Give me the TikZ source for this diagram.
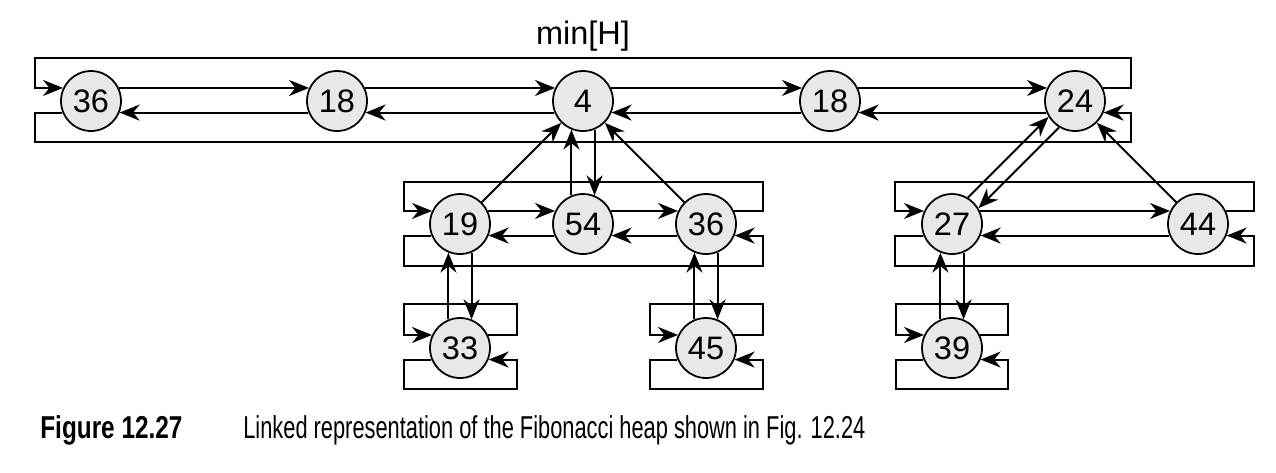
\documentclass[tikz,border=0pt]{standalone}
\usepackage{fontspec}
\setmainfont{Liberation Sans}
\newfontfamily\capfont[FakeStretch=0.69]{Liberation Sans}
\newfontfamily\capbold[FakeStretch=0.77]{Liberation Sans}
\usetikzlibrary{arrows.meta}
\definecolor{keyfill}{HTML}{E8E8E8}
\tikzset{
  key/.style={circle, draw, line width=1pt, fill=keyfill, minimum size=12mm, inner sep=0pt, font=\fontsize{18.5}{22}\selectfont},
  link/.style={line width=1.1pt, -{Stealth[length=4mm, width=3.2mm, inset=1.3mm]}},
  frame/.style={line width=1.1pt}
}
\begin{document}
\begin{tikzpicture}[x=0.2mm, y=-0.2mm]
\useasboundingbox (0,0) rectangle (1276,472);
\node (lbl) at (583,36) {\fontsize{18.5}{22}\selectfont min[H]};
\node[key] (v0) at (91,101) {36};
\node[key] (v1) at (337,101) {18};
\node[key] (v2) at (583,101) {4};
\node[key] (v3) at (830,101) {18};
\node[key] (v4) at (1075,101) {24};
\node[key] (v5) at (460,224) {19};
\node[key] (v6) at (583,224) {54};
\node[key] (v7) at (706,224) {36};
\node[key] (v8) at (952,224) {27};
\node[key] (v9) at (1198,224) {44};
\node[key] (v10) at (460,348) {33};
\node[key] (v11) at (706,348) {45};
\node[key] (v12) at (952,348) {39};
\coordinate (a1) at (35,58);
\coordinate (a2) at (1131,142);
\coordinate (b1) at (404,182);
\coordinate (b2) at (763,266);
\coordinate (c1) at (895,182);
\coordinate (c2) at (1254,266);
\coordinate (d1) at (404,304);
\coordinate (d2) at (517,389);
\coordinate (e1) at (650,304);
\coordinate (e2) at (763,389);
\coordinate (f1) at (896,304);
\coordinate (f2) at (1008,389);
\draw [link] (v0.25) -- (v1.155);
\draw [link] (v1.25) -- (v2.155);
\draw [link] (v2.25) -- (v3.155);
\draw [link] (v3.25) -- (v4.155);
\draw [link] (v1.202) -- (v0.338);
\draw [link] (v2.202) -- (v1.338);
\draw [link] (v3.202) -- (v2.338);
\draw [link] (v4.202) -- (v3.338);
\draw [link] (v4.25) -| (a2 |- a1) -| (a1 |- v0.155) -- (v0.155);
\draw [link] (v0.202) -| (a1 |- a2) -| (a2 |- v4.338) -- (v4.338);
\draw [link] (v5.25) -- (v6.155);
\draw [link] (v6.25) -- (v7.155);
\draw [link] (v6.202) -- (v5.338);
\draw [link] (v7.202) -- (v6.338);
\draw [link] (v7.25) -| (b2 |- b1) -| (b1 |- v5.155) -- (v5.155);
\draw [link] (v5.202) -| (b1 |- b2) -| (b2 |- v7.338) -- (v7.338);
\draw [link] (v8.25) -- (v9.155);
\draw [link] (v9.202) -- (v8.338);
\draw [link] (v9.25) -| (c2 |- c1) -| (c1 |- v8.155) -- (v8.155);
\draw [link] (v8.202) -| (c1 |- c2) -| (c2 |- v9.338) -- (v9.338);
\draw [link] (v10.25) -| (d2 |- d1) -| (d1 |- v10.155) -- (v10.155);
\draw [link] (v10.202) -| (d1 |- d2) -| (d2 |- v10.338) -- (v10.338);
\draw [link] (v11.25) -| (e2 |- e1) -| (e1 |- v11.155) -- (v11.155);
\draw [link] (v11.202) -| (e1 |- e2) -| (e2 |- v11.338) -- (v11.338);
\draw [link] (v12.25) -| (f2 |- f1) -| (f1 |- v12.155) -- (v12.155);
\draw [link] (v12.202) -| (f1 |- f2) -| (f2 |- v12.338) -- (v12.338);
\draw [link] (v5) -- (v2);
\draw [link] (v6.112) -- (v2.248);
\draw [link] (v2.292) -- (v6.68);
\draw [link] (v7) -- (v2);
\draw [link] (v8.59) -- (v4.211);
\draw [link] (v4.239) -- (v8.31);
\draw [link] (v9) -- (v4);
\draw [link] (v10.112) -- (v5.248);
\draw [link] (v5.292) -- (v10.68);
\draw [link] (v11.112) -- (v7.248);
\draw [link] (v7.292) -- (v11.68);
\draw [link] (v12.112) -- (v8.248);
\draw [link] (v8.292) -- (v12.68);
\node[anchor=base west, inner sep=0pt, font=\capbold\bfseries\fontsize{18}{21}\selectfont] (fig) at (40,438) {Figure 12.27};
\node[anchor=base west, inner sep=0pt, font=\capfont\fontsize{18}{21}\selectfont] (cap) at (243,438) {Linked representation of the Fibonacci heap shown in Fig. 12.24};
\end{tikzpicture}
\end{document}
